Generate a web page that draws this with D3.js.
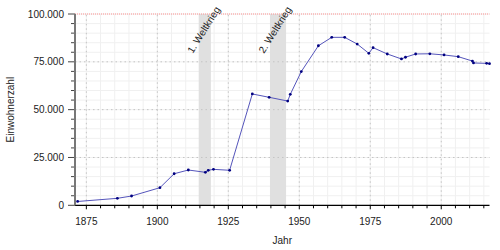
<!DOCTYPE html>
<html>
<head>
<meta charset="utf-8">
<script src="https://cdn.jsdelivr.net/npm/d3@7"></script>
<style>
  body { margin: 0; background: #fff; }
  svg { display: block; font-family: "Liberation Sans", Arial, sans-serif; }
</style>
</head>
<body>
<svg id="chart" width="500" height="250"></svg>
<script>
// Census / reference dates (decimal years) and population counts
const years = [1871.92, 1885.92, 1890.92, 1900.92, 1905.92, 1910.92, 1916.92, 1917.93,
  1919.77, 1925.46, 1933.46, 1939.38, 1945.92, 1946.83, 1950.70, 1956.73, 1961.43,
  1965.99, 1970.40, 1974.50, 1975.99, 1980.99, 1985.99, 1987.40, 1990.99, 1995.99,
  2000.99, 2005.99, 2010.99, 2011.36, 2015.99, 2016.99];
const population = [2000, 3650, 4850, 9200, 16500, 18450, 17250, 18300,
  18800, 18300, 58200, 56450, 54500, 58000, 69900, 83400, 87800,
  87800, 84300, 79450, 82400, 79100, 76500, 77400, 79100, 79200,
  78600, 77700, 75400, 74400, 74200, 74050];

// War periods shaded in the background
const warLabels = ["1. Weltkrieg", "2. Weltkrieg"];
const warStart = [1914.57, 1939.67];
const warEnd = [1918.86, 1945.35];

const xTickYears = [1875, 1900, 1925, 1950, 1975, 2000];
const yTickValues = [0, 25000, 50000, 75000, 100000];
const yTickLabels = ["0", "25.000", "50.000", "75.000", "100.000"];
const bigCityThreshold = 100000;

const svg = d3.select("#chart");
const x = d3.scaleLinear().domain([1871, 2017]).range([75, 489.5]);
const y = d3.scaleLinear().domain([0, 100000]).range([205.3, 14]);
const [x0, x1] = x.range();
const [y0, y1] = y.range();

// minor grid
const minorX = d3.range(1875, 2017, 5);
const minorY = d3.range(0, 100001, 5000);
svg.append("g").selectAll("line").data(minorX).join("line")
  .attr("x1", d => x(d)).attr("x2", d => x(d)).attr("y1", y0).attr("y2", y1)
  .attr("stroke", "#f0f0f0").attr("stroke-width", 1);
svg.append("g").selectAll("line").data(minorY).join("line")
  .attr("x1", x0).attr("x2", x1).attr("y1", d => y(d)).attr("y2", d => y(d))
  .attr("stroke", "#f0f0f0").attr("stroke-width", 1);

// war bands
svg.append("g").selectAll("rect").data(warStart).join("rect")
  .attr("x", (d, i) => x(d)).attr("width", (d, i) => x(warEnd[i]) - x(d))
  .attr("y", y1).attr("height", y0 - y1)
  .attr("fill", "#e0e0e0");

// major grid (dotted)
svg.append("g").selectAll("line").data(xTickYears).join("line")
  .attr("x1", d => x(d)).attr("x2", d => x(d)).attr("y1", y0).attr("y2", y1)
  .attr("stroke", "#c4c4c4").attr("stroke-dasharray", "1.5,3");
svg.append("g").selectAll("line").data(yTickValues.filter(v => v > 0 && v < bigCityThreshold)).join("line")
  .attr("x1", x0).attr("x2", x1).attr("y1", d => y(d)).attr("y2", d => y(d))
  .attr("stroke", "#c4c4c4").attr("stroke-dasharray", "1.5,3");

// 100.000 threshold line
svg.append("line")
  .attr("x1", x0).attr("x2", x1)
  .attr("y1", y(bigCityThreshold)).attr("y2", y(bigCityThreshold))
  .attr("stroke", "#ff9090").attr("stroke-dasharray", "1,1").attr("stroke-width", 1);

// war labels
svg.append("g").selectAll("text").data(warLabels).join("text")
  .attr("transform", (d, i) => `translate(${x(warStart[i]) - 6},54) rotate(-58)`)
  .attr("font-size", 10).attr("fill", "#222").text(d => d);

// x axis
const xAxis = svg.append("g").attr("transform", `translate(0,${y0})`);
xAxis.append("line").attr("x1", x0).attr("x2", x1).attr("y1", 0).attr("y2", 0)
  .attr("stroke", "#000").attr("stroke-width", 1.2);
xAxis.selectAll("line.tick").data(minorX).join("line").attr("class", "tick")
  .attr("x1", d => x(d)).attr("x2", d => x(d)).attr("y1", 0)
  .attr("y2", d => xTickYears.includes(d) ? 4 : 3)
  .attr("stroke", "#000");
xAxis.selectAll("text").data(xTickYears).join("text")
  .attr("x", d => x(d)).attr("y", 20).attr("text-anchor", "middle")
  .attr("font-size", 10).attr("fill", "#222").text(d => d);

// y axis
const yAxis = svg.append("g");
yAxis.selectAll("line.tick").data(minorY).join("line").attr("class", "tick")
  .attr("x1", d => yTickValues.includes(d) ? x0 - 7 : x0 - 4).attr("x2", x0)
  .attr("y1", d => y(d)).attr("y2", d => y(d))
  .attr("stroke", "#444");
yAxis.append("line").attr("x1", x0).attr("x2", x0).attr("y1", y0).attr("y2", y1)
  .attr("stroke", "#777").attr("stroke-width", 2);
yAxis.selectAll("text").data(yTickValues).join("text")
  .attr("x", 64).attr("y", d => y(d) + 3.5).attr("text-anchor", "end")
  .attr("font-size", 10).attr("fill", "#222").text((d, i) => yTickLabels[i]);

// population line and points
const pts = years.map((yr, i) => [yr, population[i]]);
svg.append("path").datum(pts)
  .attr("d", d3.line().x(d => x(d[0])).y(d => y(d[1])))
  .attr("fill", "none").attr("stroke", "#5555bb").attr("stroke-width", 1);
svg.append("g").selectAll("circle").data(pts).join("circle")
  .attr("cx", d => x(d[0])).attr("cy", d => y(d[1])).attr("r", 1.4)
  .attr("fill", "#000080");

// axis titles
svg.append("text").attr("x", (x0 + x1) / 2).attr("y", 244).attr("text-anchor", "middle")
  .attr("font-size", 10).attr("fill", "#222").text("Jahr");
svg.append("text").attr("transform", `translate(14,${(y0 + y1) / 2}) rotate(-90)`)
  .attr("text-anchor", "middle").attr("font-size", 10).attr("fill", "#222").text("Einwohnerzahl");
</script>
</body>
</html>
